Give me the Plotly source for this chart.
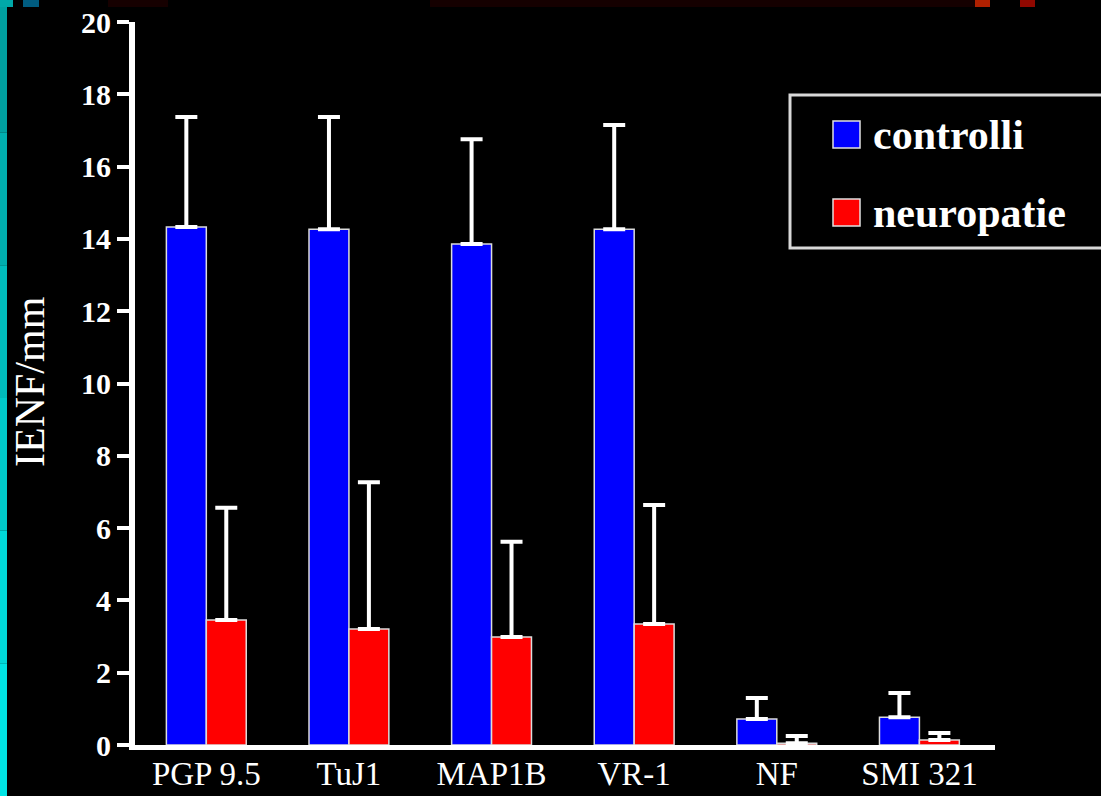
import plotly.graph_objects as go

# data
categories = ["PGP 9.5", "TuJ1", "MAP1B", "VR-1", "NF", "SMI 321"]
controlli = [14.33, 14.27, 13.86, 14.27, 0.72, 0.77]
controlli_err = [3.04, 3.10, 2.90, 2.88, 0.58, 0.67]
neuropatie = [3.46, 3.21, 2.99, 3.35, 0.05, 0.14]
neuropatie_err = [3.10, 4.06, 2.63, 3.29, 0.20, 0.19]
series_names = ["controlli", "neuropatie"]
series_colors = ["#0000FF", "#FF0000"]
y_ticks = [0, 2, 4, 6, 8, 10, 12, 14, 16, 18, 20]
y_title = "IENF/mm"

W, H = 1101, 796
L, R, T, B = 135, 106, 22, 51
PW, PH = W - L - R, H - T - B


def px(x):
    return (x - L) / PW


def py(y):
    return (H - B - y) / PH


FONT = "Liberation Serif"

fig = go.Figure()
for name, vals, errs, col in [
    (series_names[0], controlli, controlli_err, series_colors[0]),
    (series_names[1], neuropatie, neuropatie_err, series_colors[1]),
]:
    fig.add_trace(go.Bar(
        x=categories, y=vals, name=name, showlegend=False,
        marker=dict(color=col, line=dict(color="#dcdcdc", width=1.5)),
        error_y=dict(type="data", symmetric=False, array=errs,
                     arrayminus=[0] * len(errs), color="white",
                     thickness=4, width=11),
    ))

shapes = []
# slide decoration: left teal strip and dark top band
strip = ["#00A0A0", "#00AEAE", "#00BCBC", "#00CACA", "#00D8D8", "#00E4E4"]
for i, c in enumerate(strip):
    y0 = H * i / len(strip)
    y1 = H * (i + 1) / len(strip)
    shapes.append(dict(type="rect", xref="paper", yref="paper",
                       x0=px(0), x1=px(7), y0=py(y1), y1=py(y0),
                       fillcolor=c, line=dict(width=0)))
deco = [(0, 13, "#00A8A8"), (23, 39, "#005C80"), (108, 168, "#160000"),
        (430, 980, "#150000"), (975, 990, "#B02000"), (1020, 1035, "#900800")]
for x0, x1, c in deco:
    shapes.append(dict(type="rect", xref="paper", yref="paper",
                       x0=px(x0), x1=px(x1), y0=py(7), y1=py(0),
                       fillcolor=c, line=dict(width=0)))

# legend box
shapes.append(dict(type="rect", xref="paper", yref="paper",
                   x0=px(790), x1=px(1115), y0=py(248), y1=py(95),
                   line=dict(color="#d8d8d8", width=3)))
annotations = []
for i, (name, col) in enumerate(zip(series_names, series_colors)):
    yc = 135 + 78 * i
    shapes.append(dict(type="rect", xref="paper", yref="paper",
                       x0=px(833), x1=px(860), y0=py(yc + 13), y1=py(yc - 14),
                       fillcolor=col, line=dict(color="#e0e0e0", width=1.5)))
    annotations.append(dict(xref="paper", yref="paper", x=px(871), y=py(yc),
                            xanchor="left", yanchor="middle", showarrow=False,
                            text=name,
                            font=dict(family=FONT, size=42, color="white",
                                      weight="bold")))

# y-axis title placed as in the slide
annotations.append(dict(xref="paper", yref="paper", x=px(30), y=py(382),
                        xanchor="center", yanchor="middle", showarrow=False,
                        textangle=-90, text=y_title,
                        font=dict(family=FONT, size=42, color="white")))

fig.update_layout(
    width=W, height=H,
    margin=dict(l=L, r=R, t=T, b=B, autoexpand=False),
    paper_bgcolor="black", plot_bgcolor="black",
    barmode="group", bargap=0.44, bargroupgap=0,
    shapes=shapes, annotations=annotations,
)
fig.update_xaxes(
    range=[-0.5, 5.53], showgrid=False, zeroline=False, automargin=False,
    showline=True, linecolor="white", linewidth=5, ticks="",
    ticklabelstandoff=-5,
    tickfont=dict(family=FONT, size=33, color="white"),
)
fig.update_yaxes(
    range=[0, 20], tickvals=y_ticks, showgrid=False, zeroline=False,
    automargin=False,
    showline=True, linecolor="white", linewidth=6,
    ticks="outside", ticklen=12, tickwidth=4, tickcolor="white",
    tickfont=dict(family=FONT, size=30, color="white", weight="bold"),
)

fig.write_html(
    "out.html",
    config={"displayModeBar": False},
    post_script="document.body.style.margin='0';"
                "document.body.style.background='black';",
)
